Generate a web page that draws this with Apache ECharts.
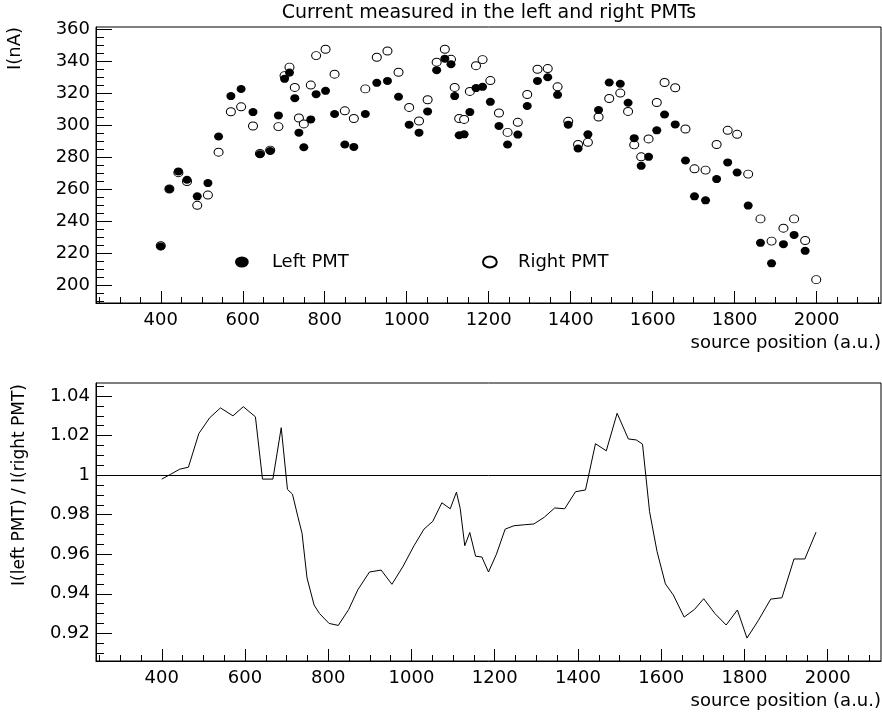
<!DOCTYPE html>
<html>
<head>
<meta charset="utf-8">
<title>PMT currents</title>
<script src="https://cdn.jsdelivr.net/npm/echarts@6/dist/echarts.min.js"></script>
<style>
  html, body { margin: 0; padding: 0; background: #fff; }
  #chart { width: 882px; height: 712px; }
</style>
</head>
<body>
<div id="chart"></div>
<script>
// source positions (a.u.), one per measurement
var positions = [400, 421, 443, 464, 489, 515, 541, 571, 596, 625, 642, 667, 687, 702, 714, 727, 737, 749, 766, 779,
  802, 824, 849, 871, 899, 927, 953, 980, 1006, 1030, 1051, 1073, 1093, 1108, 1117, 1128, 1140, 1154, 1169, 1185,
  1204, 1225, 1246, 1271, 1294, 1319, 1344, 1368, 1394, 1418, 1442, 1468, 1494, 1521, 1540, 1555, 1572, 1590, 1610, 1629,
  1655, 1680, 1702, 1729, 1756, 1783, 1806, 1833, 1863, 1890, 1919, 1945, 1972, 1999];

// current in nA, left PMT (no value at the last position)
var leftPMT = [224.1, 260.0, 271.0, 265.8, 255.4, 263.7, 292.8, 318.1, 322.5, 308.1,
  281.7, 283.8, 306.0, 328.9, 332.8, 316.8, 295.2, 286.1, 303.5, 319.3,
  321.4, 306.9, 287.8, 286.3, 306.9, 326.4, 327.6, 317.7, 300.2, 295.2,
  308.5, 334.3, 341.5, 338.0, 318.1, 293.6, 294.2, 308.1, 323.1, 323.9,
  314.5, 299.4, 287.8, 294.0, 311.9, 327.6, 329.9, 318.9, 300.2, 285.3,
  294.2, 309.4, 326.6, 325.8, 313.9, 291.8, 274.5, 280.1, 296.7, 306.6,
  300.4, 277.8, 255.4, 252.9, 266.2, 276.6, 270.3, 249.6, 226.3, 213.5,
  225.5, 231.3, 221.3];

// current in nA, right PMT
var rightPMT = [224.5, 260.0, 270.2, 264.7, 249.8, 256.2, 283.0, 308.3, 311.4, 299.4,
  282.2, 284.3, 299.0, 330.9, 336.2, 323.5, 304.4, 300.7, 325.0, 343.4,
  347.4, 331.8, 308.9, 304.1, 322.6, 342.4, 346.3, 333.0, 311.0, 302.5,
  315.8, 339.3, 347.4, 341.1, 323.5, 304.1, 303.5, 321.0, 337.1, 340.9,
  327.8, 307.5, 295.4, 301.7, 319.1, 334.9, 335.3, 323.9, 302.3, 287.8,
  289.2, 305.0, 316.6, 320.0, 308.5, 287.6, 280.1, 291.3, 314.1, 326.6,
  323.3, 297.5, 272.6, 271.8, 287.8, 296.7, 294.2, 269.3, 241.3, 227.4,
  235.5, 241.3, 227.8, 203.3];

// I(left)/I(right)
var ratio = [0.998, 1.0004, 1.003, 1.004, 1.021, 1.029, 1.034, 1.030, 1.0346, 1.0295,
  0.998, 0.998, 1.024, 0.9928, 0.9904, 0.979, 0.9706, 0.948, 0.9343, 0.930,
  0.925, 0.924, 0.932, 0.942, 0.951, 0.952, 0.9448, 0.954, 0.9643, 0.9727,
  0.9766, 0.986, 0.983, 0.9914, 0.9832, 0.9643, 0.971, 0.959, 0.9586, 0.951,
  0.960, 0.9727, 0.9744, 0.9749, 0.9753, 0.9787, 0.9834, 0.983, 0.9916, 0.9925,
  1.0159, 1.0123, 1.0313, 1.0183, 1.0178, 1.0157, 0.9815, 0.9613, 0.945, 0.9394,
  0.9282, 0.9321, 0.9375, 0.930, 0.9242, 0.9318, 0.9176, 0.9264, 0.9373, 0.938,
  0.9576, 0.9576, 0.9712];

// tick labels
var xLabels = [400, 600, 800, 1000, 1200, 1400, 1600, 1800, 2000];
var currentLabels = [200, 220, 240, 260, 280, 300, 320, 340, 360];
var ratioLabels = [0.92, 0.94, 0.96, 0.98, 1, 1.02, 1.04];

var FONT = 'DejaVu Sans';
var ELLIPSE = 'path://M0,4A5,4,0,1,1,10,4A5,4,0,1,1,0,4Z';

function steps(from, to, step) {
  var out = [];
  for (var v = from; v <= to + step / 2; v += step) out.push(Math.round(v * 1000) / 1000);
  return out;
}

// a labelled axis plus a second, unlabelled one carrying the short ticks
function axes(gridIndex, pos, min, max, major, minor, majorLen, minorLen, extra) {
  var main = {
    type: 'value', gridIndex: gridIndex, position: pos, min: min, max: max,
    splitLine: { show: false },
    axisLine: { show: true, onZero: false, lineStyle: { color: '#000', width: 1 } },
    axisTick: { show: true, inside: true, length: majorLen, customValues: major, lineStyle: { color: '#000' } },
    axisLabel: { show: true, customValues: major, color: '#000', fontFamily: FONT, fontSize: 18,
      margin: pos === 'bottom' ? 8 : 6,
      formatter: function (v) { return String(v); } }
  };
  var sub = {
    type: 'value', gridIndex: gridIndex, position: pos, offset: 0, min: min, max: max,
    splitLine: { show: false },
    axisLine: { show: false },
    axisTick: { show: true, inside: true, length: minorLen, customValues: minor, lineStyle: { color: '#000' } },
    axisLabel: { show: false }
  };
  return [Object.assign(main, extra || {}), sub];
}

var xName = {
  name: 'source position (a.u.)', nameLocation: 'end', nameGap: 0,
  nameTextStyle: { color: '#000', fontFamily: FONT, fontSize: 18, align: 'right', verticalAlign: 'top', padding: [31, 0, 0, 0] }
};

var chart = echarts.init(document.getElementById('chart'), null, { renderer: 'canvas' });
chart.setOption({
  animation: false,
  backgroundColor: '#fff',
  textStyle: { fontFamily: FONT },
  title: {
    text: 'Current measured in the left and right PMTs',
    left: 489, top: 4, padding: 0, textAlign: 'center',
    textStyle: { color: '#000', fontFamily: FONT, fontSize: 19, fontWeight: 'normal' }
  },
  grid: [
    { left: 96, right: 1, top: 27, height: 276, show: true, borderColor: '#000', borderWidth: 1,
      containLabel: false, outerBoundsMode: 'none' },
    { left: 96, right: 1, top: 383, height: 278, show: true, borderColor: '#000', borderWidth: 1,
      containLabel: false, outerBoundsMode: 'none' }
  ],
  legend: [
    { data: ['Left PMT'], left: 235, top: 253, padding: 0, icon: ELLIPSE, itemWidth: 14, itemHeight: 11,
      textStyle: { color: '#000', fontFamily: FONT, fontSize: 18, padding: [0, 0, 0, 18] } },
    { data: ['Right PMT'], left: 482, top: 253, padding: 0, icon: ELLIPSE, itemWidth: 14, itemHeight: 11,
      textStyle: { color: '#000', fontFamily: FONT, fontSize: 18, padding: [0, 0, 0, 16] } }
  ],
  xAxis: [].concat(
    axes(0, 'bottom', 242, 2157, xLabels, steps(250, 2150, 50), 12, 6, xName),
    axes(1, 'bottom', 242, 2128, xLabels, steps(250, 2100, 50), 12, 6, xName)
  ),
  yAxis: [].concat(
    axes(0, 'left', 188.7, 361.3, currentLabels, steps(190, 360, 5), 16, 8),
    axes(1, 'left', 0.906, 1.0466, ratioLabels, steps(0.91, 1.045, 0.005), 16, 8)
  ),
  graphic: [
    { type: 'text', x: 15, y: 27, rotation: Math.PI / 2,
      style: { text: 'I(nA)', fill: '#000', font: '18px "DejaVu Sans"', align: 'right', textAlign: 'right',
        verticalAlign: 'middle', textVerticalAlign: 'middle' } },
    { type: 'text', x: 20, y: 384, rotation: Math.PI / 2,
      style: { text: 'I(left PMT) / I(right PMT)', fill: '#000', font: '17px "DejaVu Sans"', align: 'right',
        textAlign: 'right', verticalAlign: 'middle', textVerticalAlign: 'middle' } }
  ],
  series: [
    {
      name: 'Right PMT', type: 'scatter', xAxisIndex: 0, yAxisIndex: 0,
      symbol: ELLIPSE, symbolSize: [9, 8],
      itemStyle: { color: '#fff', borderColor: '#000', borderWidth: 1, opacity: 1 },
      data: rightPMT.map(function (v, i) { return [positions[i], v]; })
    },
    {
      name: 'Left PMT', type: 'scatter', xAxisIndex: 0, yAxisIndex: 0,
      symbol: ELLIPSE, symbolSize: [9, 8],
      itemStyle: { color: '#000', opacity: 1 },
      data: leftPMT.map(function (v, i) { return [positions[i], v]; })
    },
    {
      name: 'ratio', type: 'line', xAxisIndex: 2, yAxisIndex: 2,
      showSymbol: false, symbol: 'none',
      lineStyle: { color: '#000', width: 1 },
      data: ratio.map(function (v, i) { return [positions[i], v]; }),
      markLine: {
        silent: true, symbol: 'none', label: { show: false },
        lineStyle: { color: '#000', width: 1, type: 'solid' },
        data: [{ yAxis: 1 }]
      }
    }
  ]
});
</script>
</body>
</html>
